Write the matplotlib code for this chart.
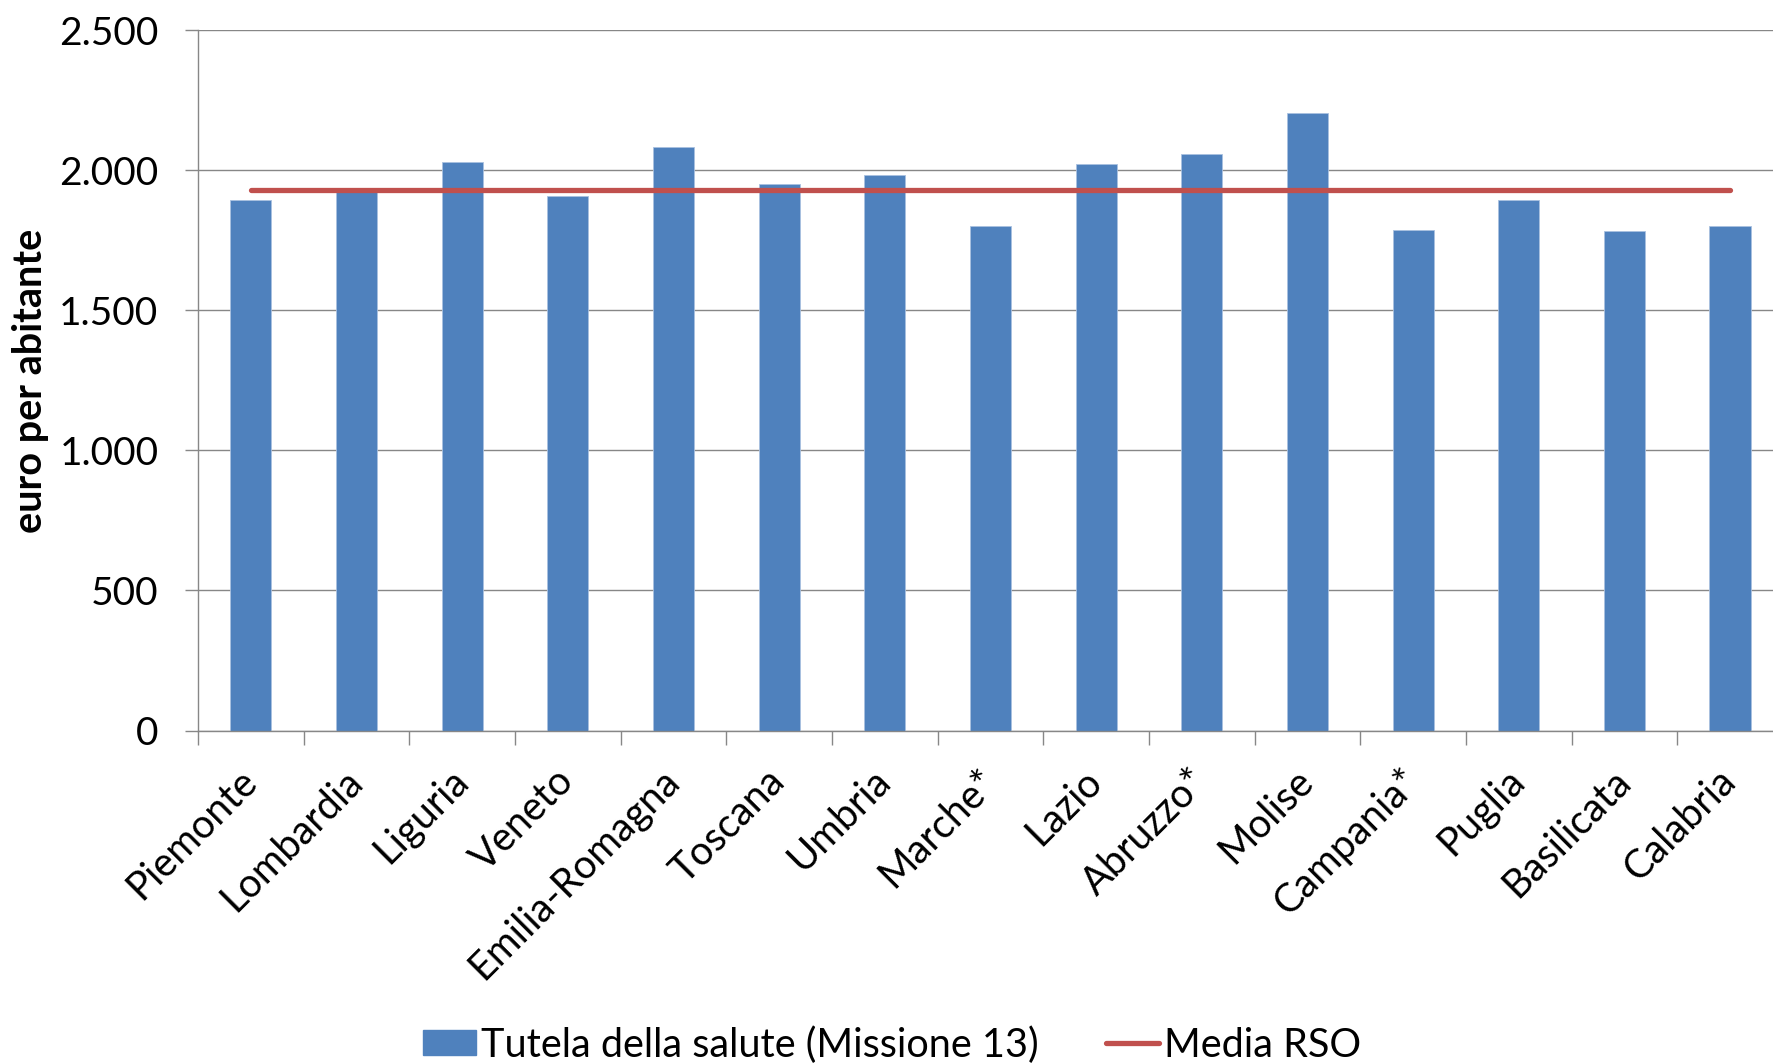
import numpy as np
import matplotlib
matplotlib.use("Agg")
import matplotlib.pyplot as plt
from matplotlib.lines import Line2D
from matplotlib.patches import Patch

# data (euro per abitante)
regioni = ['Piemonte', 'Lombardia', 'Liguria', 'Veneto', 'Emilia-Romagna',
           'Toscana', 'Umbria', 'Marche*', 'Lazio', 'Abruzzo*', 'Molise',
           'Campania*', 'Puglia', 'Basilicata', 'Calabria']
tutela_salute = [1895, 1935, 2029, 1908, 2083, 1953, 1983, 1800, 2022,
                 2059, 2204, 1786, 1893, 1782, 1801]
media_rso = 1930
y_ticks = [0, 500, 1000, 1500, 2000, 2500]
y_labels = ['0', '500', '1.000', '1.500', '2.000', '2.500']

bar_col = '#4F81BD'
line_col = '#C0504D'
grid_col = '#878787'

plt.rcParams['font.family'] = ['Lato', 'DejaVu Sans']

fig = plt.figure(figsize=(17.73, 10.64), dpi=100)
ax = fig.add_axes([0.1117, 0.3134, 1.0056 - 0.1117, 0.9715 - 0.3134])

x = np.arange(len(regioni))
ax.bar(x, tutela_salute, width=0.39, color=bar_col, edgecolor='#a9c1e0',
       linewidth=0.6, zorder=2)
ax.plot(x, [media_rso] * len(x), color=line_col, lw=3.8,
        solid_capstyle='round', zorder=3)

ax.set_xlim(-0.5, len(regioni) - 0.5)
ax.set_ylim(0, 2500)

ax.set_yticks(y_ticks)
ax.set_yticklabels(y_labels, fontsize=28)
ax.yaxis.grid(True, color=grid_col, lw=1.0, zorder=0)
ax.tick_params(axis='y', length=9.5, width=1.0, color=grid_col, pad=19)

ax.set_xticks(x)
ax.set_xticklabels(regioni, fontsize=28.5, rotation=45, ha='right',
                   va='center', rotation_mode='anchor')
ax.tick_params(axis='x', which='major', length=0, pad=32)
ax.set_xticks(np.arange(-0.5, len(regioni)), minor=True)
ax.tick_params(axis='x', which='minor', length=10, width=1.0, color=grid_col)

for s in ['top', 'right']:
    ax.spines[s].set_visible(False)
for s in ['left', 'bottom']:
    ax.spines[s].set_color(grid_col)
    ax.spines[s].set_linewidth(1.0)

ax.set_ylabel('euro per abitante', fontsize=28.5, fontweight='bold', labelpad=7)

handles = [Patch(facecolor=bar_col, edgecolor=bar_col),
           Line2D([0], [0], color=line_col, lw=3.8, solid_capstyle='round')]
fig.legend(handles, ['Tutela della salute (Missione 13)', 'Media RSO'],
           loc='center', bbox_to_anchor=(0.503, 0.018), ncol=2, frameon=False,
           fontsize=28.5, handlelength=1.35, handleheight=0.6,
           handletextpad=0.12, columnspacing=1.7, borderpad=0)

fig.savefig('out.png', dpi=100)
